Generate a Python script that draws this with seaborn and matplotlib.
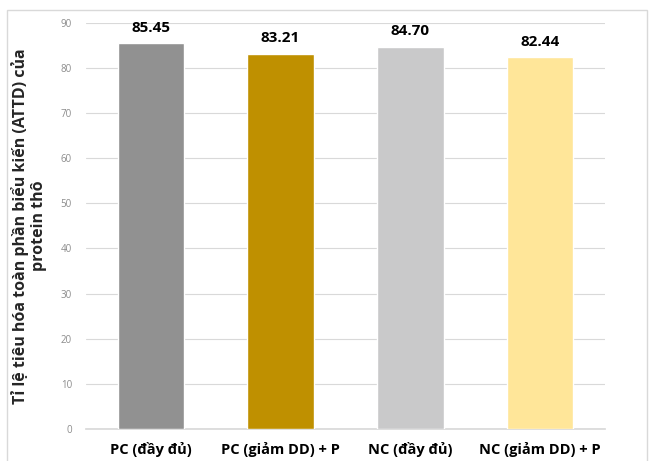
import matplotlib
matplotlib.use("Agg")
import matplotlib.pyplot as plt
import pandas as pd
import seaborn as sns
from matplotlib.patches import Rectangle

# Dữ liệu
groups = ["PC (đầy đủ)", "PC (giảm DD) + P", "NC (đầy đủ)", "NC (giảm DD) + P"]
attd = [85.45, 83.21, 84.70, 82.44]
colors = ["#919191", "#BF9000", "#C9C9CA", "#FFE699"]
yticks = [0, 10, 20, 30, 40, 50, 60, 70, 80, 90]

df = pd.DataFrame({"group": groups, "attd": attd})

sns.set_theme(style="white")
plt.rcParams["font.family"] = ["Open Sans", "DejaVu Sans"]

fig = plt.figure(figsize=(6.5, 4.61), dpi=100)
ax = fig.add_axes([0.132, 0.0694, 0.799, 0.881])

sns.barplot(data=df, x="group", y="attd", hue="group", palette=colors,
            saturation=1, legend=False, width=0.51, ax=ax, zorder=3)

ax.set_ylim(0, 90)
ax.set_xlim(-0.5, 3.5)
ax.set_yticks(yticks)
ax.set_yticklabels([str(t) for t in yticks], fontsize=7, color="#8c8c8c")
ax.tick_params(axis="y", length=0, pad=10)
ax.tick_params(axis="x", length=0, pad=9)
for lbl in ax.get_xticklabels():
    lbl.set_fontsize(10.5)
    lbl.set_fontweight("bold")
    lbl.set_color("black")
ax.grid(axis="y", color="#d9d9d9", linewidth=0.8, zorder=0)
for s in ["top", "right", "left"]:
    ax.spines[s].set_visible(False)
ax.spines["bottom"].set_color("#d9d9d9")
ax.set_xlabel("")
ax.set_ylabel("Tỉ lệ tiêu hóa toàn phần biểu kiến (ATTD) của\nprotein thô",
              fontsize=11.5, fontweight="bold", labelpad=10, linespacing=1.15,
              multialignment="center")

# Nhãn giá trị
for p, v in zip(ax.patches, attd):
    ax.annotate(f"{v:.2f}", (p.get_x() + p.get_width() / 2, p.get_height()),
                ha="center", va="bottom", xytext=(0, 6), textcoords="offset points",
                fontsize=11, fontweight="bold", color="black")

# Khung ngoài
fig.patches.append(Rectangle((0.011, -0.01), 0.985, 0.988, transform=fig.transFigure,
                             fill=False, edgecolor="#d9d9d9", linewidth=1.0))

fig.savefig("out.png", dpi=100)
